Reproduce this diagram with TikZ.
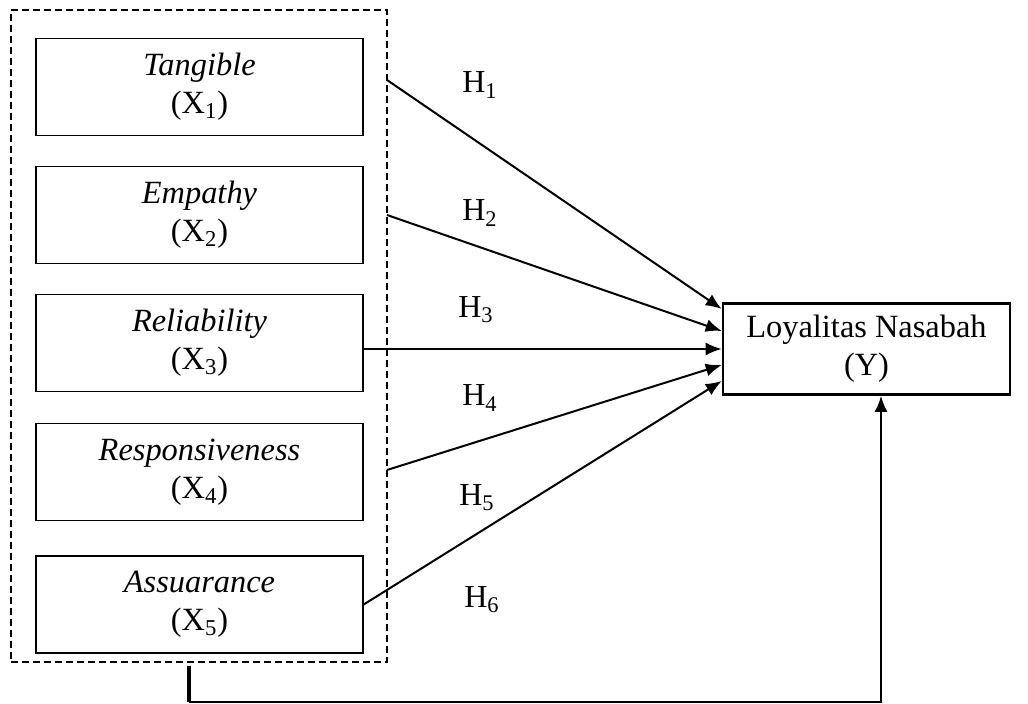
\documentclass[tikz,border=0pt]{standalone}
\usepackage{fontspec}
\setmainfont{Liberation Serif}
\usepackage{tikz}
\usetikzlibrary{arrows.meta}
\usetikzlibrary{positioning}
\tikzset{varbox/.style = {draw, line width = 0.7pt, rectangle, inner sep = 0, minimum width = 163.5pt, minimum height = 48.5pt, align = center, font = \fontsize{16.2}{19}\selectfont}}
\tikzset{hlabel/.style = {inner sep = 0, font = \fontsize{16}{18}\selectfont}}
\tikzset{arr/.style = {line width = 1pt, -{Latex[length = 8pt, width = 6.5pt]}}}

\begin{document}
\begin{tikzpicture}[x = 0.5pt, y = -0.5pt]
      \useasboundingbox (0, 0) rectangle (1028, 704);
      % group of service quality variables
      \node [draw, line width = 0.6pt, dash pattern = on 3.5pt off 2pt, minimum width = 188pt, minimum height = 326pt, inner sep = 0] (grp) at (199, 336) {};
      \node [varbox] (tang) at (199.5, 87) {\textit{Tangible}\\(X\textsubscript{1})};
      \node [varbox] (emp) at (199.5, 215) {\textit{Empathy}\\(X\textsubscript{2})};
      \node [varbox] (rel) at (199.5, 343) {\textit{Reliability}\\(X\textsubscript{3})};
      \node [varbox] (resp) at (199.5, 472) {\textit{Responsiveness}\\(X\textsubscript{4})};
      \node [varbox] (assu) at (199.5, 604.5) {\textit{Assuarance}\\(X\textsubscript{5})};
      \node [varbox, line width = 1.3pt, minimum width = 143.5pt, minimum height = 45.5pt] (loyal) at (866.5, 349) {Loyalitas Nasabah\\(Y)};

      \coordinate (s1) at (387, 80);
      \coordinate (s2) at (387, 215);
      \coordinate (s4) at (387, 470);
      \draw [arr] (s1) -- ([yshift = 20pt]loyal.west);
      \draw [arr] (s2) -- ([yshift = 9pt]loyal.west);
      \draw [arr] (rel.east |- loyal.west) -- (loyal.west);
      \draw [arr] (s4) -- ([yshift = -8pt]loyal.west);
      \draw [arr] (assu.east) -- ([yshift = -16pt]loyal.west);

      % simultaneous effect
      \coordinate (b0) at (189, 666);
      \coordinate (b1) at (189, 702);
      \draw [line width = 2pt] (b0) -- (b1);
      \draw [arr] (b1) -| ([xshift = 7.25pt]loyal.south);

      \node [hlabel] (h1) at (480, 85) {H\textsubscript{1}};
      \node [hlabel] (h2) at (480, 213) {H\textsubscript{2}};
      \node [hlabel] (h3) at (476, 310) {H\textsubscript{3}};
      \node [hlabel] (h4) at (480, 398) {H\textsubscript{4}};
      \node [hlabel] (h5) at (477, 498) {H\textsubscript{5}};
      \node [hlabel] (h6) at (482, 600) {H\textsubscript{6}};
    \end{tikzpicture}
\end{document}
